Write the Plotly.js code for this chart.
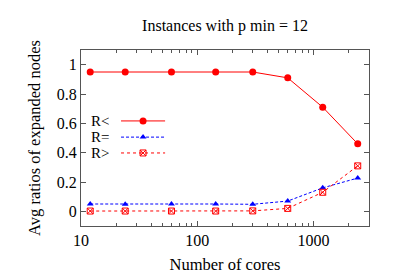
<!DOCTYPE html>
<html><head><meta charset="utf-8">
<script src="https://cdn.plot.ly/plotly-3.0.1.min.js"></script>
<style>html,body{margin:0;padding:0;background:#fff}</style>
</head><body><div id="chart" style="width:399px;height:279px"></div>
<script>
const cores = [12, 24, 60, 144, 300, 600, 1200, 2400];
const rLess = [0.95, 0.95, 0.95, 0.95, 0.95, 0.91, 0.71, 0.46];
const rEq = [0.05, 0.048, 0.05, 0.05, 0.048, 0.07, 0.16, 0.227];
const rGreater = [0.002, 0.002, 0.002, 0.002, 0.003, 0.02, 0.13, 0.31];
const names = ['R<', 'R=', 'R>'];
const titleText = 'Instances with p min = 12';
const xTitle = 'Number of cores';
const yTitle = 'Avg ratios of expanded nodes';

const font = 'Liberation Serif, Times New Roman, serif';
const RED = '#ff0000', BLUE = '#0000ff';
const styles = [
  {line: {color: RED, width: 1}, marker: {symbol: 'circle', size: 7, color: RED}},
  {line: {color: BLUE, width: 1, dash: '3px,2px'}, marker: {symbol: 'triangle-up', size: 6, color: BLUE}},
  {line: {color: RED, width: 1, dash: 'dot'}, marker: {symbol: 'square-x-open', size: 6, color: RED, line: {color: RED, width: 1}}}
];
const series = [rLess, rEq, rGreater];
const traces = [];
series.forEach((ys, i) => {
  traces.push({x: cores, y: ys, type: 'scatter', mode: 'lines+markers', name: names[i],
    line: styles[i].line, marker: styles[i].marker, showlegend: false, cliponaxis: false});
});
// legend samples on an overlay axis (gnuplot-style key: text left, sample right)
const legY = [0.597, 0.505, 0.415];
names.forEach((n, i) => {
  traces.push({x: [0.139, 0.292], y: [legY[i], legY[i]], xaxis: 'x2', yaxis: 'y2', type: 'scatter', mode: 'lines',
    line: styles[i].line, showlegend: false, hoverinfo: 'skip'});
  traces.push({x: [0.2155], y: [legY[i]], xaxis: 'x2', yaxis: 'y2', type: 'scatter', mode: 'markers',
    marker: styles[i].marker, showlegend: false, hoverinfo: 'skip'});
});
const annotations = names.map((n, i) => ({
  xref: 'x2', yref: 'y2', x: 0.03, y: legY[i], text: n, showarrow: false, xanchor: 'left',
  height: 12, borderpad: 0, valign: 'middle',
  font: {family: font, size: 15, color: '#000'}
}));
const axisCommon = {
  showgrid: false, zeroline: false, showline: true, linecolor: '#555', linewidth: 1,
  mirror: 'allticks', ticks: 'inside', ticklen: 5, tickcolor: '#555',
  tickfont: {family: font, size: 16, color: '#000'}
};
const layout = {
  width: 399, height: 279,
  margin: {l: 81, r: 30, t: 50, b: 53},
  paper_bgcolor: '#fff', plot_bgcolor: '#fff',
  title: {text: titleText, font: {family: font, size: 16, color: '#000'}, x: 0.564, xanchor: 'center', y: 0.91, yanchor: 'middle'},
  xaxis: Object.assign({}, axisCommon, {
    type: 'log', range: [1, Math.log10(3000)], dtick: 1, tickvals: [10, 100, 1000], ticktext: ['10', '100', '1000'],
    minor: {ticks: 'inside', ticklen: 3, tickcolor: '#555', dtick: 'D1', showgrid: false},
    title: {text: xTitle, font: {family: font, size: 16.5, color: '#000'}, standoff: 10}
  }),
  yaxis: Object.assign({}, axisCommon, {
    range: [-0.1, 1.1], tickvals: [0, 0.2, 0.4, 0.6, 0.8, 1], ticktext: ['0', '0.2', '0.4', '0.6', '0.8', '1'],
    title: {text: yTitle, font: {family: font, size: 16.5, color: '#000'}, standoff: 12}
  }),
  xaxis2: {overlaying: 'x', range: [0, 1], visible: false, fixedrange: true},
  yaxis2: {overlaying: 'y', range: [0, 1], visible: false, fixedrange: true},
  annotations: annotations,
  showlegend: false
};
Plotly.newPlot('chart', traces, layout, {displayModeBar: false, staticPlot: true});
</script></body></html>
